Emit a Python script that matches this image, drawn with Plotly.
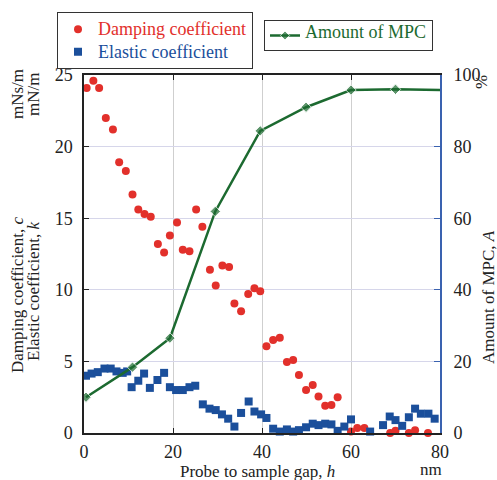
import plotly.graph_objects as go

# ---- data ----
damp_x = [0.6, 2.1, 3.4, 4.9, 6.5, 7.9, 9.4, 10.9, 12.2, 13.6, 15.0, 16.6, 18.0, 19.3, 20.9,
          22.2, 23.7, 25.2, 26.6, 28.3, 29.6, 31.1, 32.6, 33.8, 35.3, 36.9, 38.3, 39.6, 41.0,
          42.5, 44.0, 45.6, 47.0, 48.3, 49.9, 51.4, 52.7, 54.2, 55.6, 57.0, 60.0, 61.4, 63.0,
          68.8, 70.0, 73.0, 74.4, 77.3]
damp_y = [24.1, 24.6, 24.1, 22.0, 21.2, 18.9, 18.3, 16.65, 15.6, 15.3, 15.1, 13.2, 12.6, 13.8, 14.7,
          12.8, 12.7, 15.6, 14.4, 11.4, 10.3, 11.7, 11.6, 9.05, 8.5, 9.7, 10.1, 9.9, 6.05,
          6.5, 6.65, 4.95, 5.1, 4.05, 3.0, 3.35, 2.55, 1.9, 1.95, 2.5, 0.1, 0.35, 0.35,
          0.0, 0.15, 0.0, 0.2, 0.0]

elas_x = [0.45, 1.7, 3.1, 4.6, 6.0, 7.3, 8.7, 9.7, 10.7, 12.2, 13.5, 14.8, 16.5, 18.0, 19.3,
          20.7, 22.2, 23.7, 25.0, 26.7, 28.2, 29.6, 31.0, 32.4, 33.8, 35.3, 37.0, 38.3, 39.8,
          41.0, 42.5, 44.0, 45.6, 47.0, 48.3, 49.9, 51.4, 52.7, 54.2, 55.6, 57.0, 58.5, 60.0,
          64.3, 67.2, 68.7, 70.0, 71.5, 73.0, 74.4, 75.7, 77.4, 78.8]
elas_y = [4.0, 4.15, 4.25, 4.5, 4.5, 4.3, 4.2, 4.3, 3.2, 3.65, 4.15, 3.15, 3.7, 4.2, 3.2,
          3.0, 3.0, 3.2, 3.3, 2.0, 1.7, 1.6, 1.3, 1.0, 0.45, 1.4, 2.2, 1.5, 1.3,
          1.05, 0.3, 0.1, 0.25, 0.1, 0.2, 0.4, 0.65, 0.55, 0.65, 0.6, 0.15, 0.45, 0.95,
          0.1, 0.55, 1.15, 0.9, 0.5, 1.1, 1.7, 1.35, 1.35, 1.0]

mpc_x = [0.45, 10.9, 19.3, 29.5, 39.6, 49.9, 60.0, 70.0, 80.0]
mpc_a = [10.0, 18.4, 26.5, 61.9, 84.4, 91.0, 95.8, 96.0, 95.8]

x_ticks = [0, 20, 40, 60, 80]
left_ticks = [0, 5, 10, 15, 20, 25]
right_ticks = [0, 20, 40, 60, 80, 100]

RED = "#e2302b"
BLUE = "#1b4f9b"
GREEN = "#1c6a30"
FONT = "'Liberation Serif', 'Times New Roman', serif"

# page geometry (pixels)
L, R, T, B = 84, 57, 75, 47
W, H = 497, 480
PW, PH = W - L - R, H - T - B


def px(xp):
    return (xp - L) / PW


def py(yp):
    return (H - B - yp) / PH


def lg(text, color):
    return f"<span style='font-size:18px;color:{color}'>{text}</span>"


fig = go.Figure()
fig.add_trace(go.Scatter(
    x=damp_x, y=damp_y, mode="markers", cliponaxis=False,
    name=lg("Damping coefficient", RED),
    marker=dict(symbol="circle", size=8, color=RED), legend="legend"))
fig.add_trace(go.Scatter(
    x=elas_x, y=elas_y, mode="markers", cliponaxis=False,
    name=lg("Elastic coefficient", BLUE),
    marker=dict(symbol="square", size=8, color=BLUE), legend="legend"))
fig.add_trace(go.Scatter(
    x=mpc_x, y=mpc_a, mode="lines+markers", yaxis="y2",
    name=lg("Amount of MPC", GREEN),
    line=dict(color=GREEN, width=2.5),
    marker=dict(symbol="diamond", size=[8] * (len(mpc_x) - 1) + [0], color=GREEN),
    legend="legend2"))

fig.update_layout(
    width=W, height=H,
    margin=dict(l=L, r=R, t=T, b=B, autoexpand=False),
    paper_bgcolor="white", plot_bgcolor="white",
    font=dict(family=FONT, size=17, color="#222"),
    showlegend=True,
    xaxis=dict(range=[0, 80], tickvals=x_ticks, ticks="inside", ticklen=5,
               tickcolor="#222", showline=True, linecolor="#222", linewidth=1.5,
               mirror="ticks", showgrid=True, gridcolor="#cfcfcf", gridwidth=1,
               zeroline=False, tickfont=dict(size=18), ticklabelstandoff=2),
    yaxis=dict(range=[0, 25], tickvals=left_ticks, ticks="inside", ticklen=5,
               tickcolor="#222", showline=True, linecolor="#222", linewidth=1.5,
               showgrid=True, gridcolor="#d6d6ea", gridwidth=1, zeroline=False,
               tickfont=dict(size=18), ticklabelstandoff=6),
    yaxis2=dict(range=[0, 100], tickvals=right_ticks, overlaying="y", side="right",
                ticks="inside", ticklen=6, tickcolor="#3a62b0", showline=True,
                linecolor="#3a62b0", linewidth=1.8, showgrid=False, zeroline=False,
                tickfont=dict(size=18), ticklabelstandoff=8),
    legend=dict(x=px(57), y=py(12), xanchor="left", yanchor="top",
                bordercolor="#333", borderwidth=1, bgcolor="white",
                font=dict(size=15, family=FONT), tracegroupgap=0,
                itemwidth=30),
    legend2=dict(x=px(264), y=py(20), xanchor="left", yanchor="top",
                 bordercolor="#333", borderwidth=1, bgcolor="white",
                 font=dict(size=6, family=FONT), itemwidth=30),
)

ann = [
    dict(text="mNs/m", x=px(17), y=py(94), textangle=-90),
    dict(text="mN/m", x=px(33), y=py(95), textangle=-90),
    dict(text="Damping coefficient, <i>c</i>", x=px(17), y=py(295), textangle=-90),
    dict(text="Elastic coefficient, <i>k</i>", x=px(33), y=py(292), textangle=-90),
    dict(text="Amount of MPC, <i>A</i>", x=px(488), y=py(297), textangle=-90),
    dict(text="%", x=px(482), y=py(82), textangle=-90),
    dict(text="Probe to sample gap, <i>h</i>", x=px(257), y=py(471)),
    dict(text="nm", x=px(431), y=py(469)),
]
for a in ann:
    fig.add_annotation(xref="paper", yref="paper", showarrow=False,
                       xanchor="center", yanchor="middle",
                       font=dict(family=FONT, size=17, color="#222"), **a)

fig.write_html("out.html", config={"displayModeBar": False},
               post_script="document.body.style.margin='0';"
                           "document.body.style.overflow='hidden';")
